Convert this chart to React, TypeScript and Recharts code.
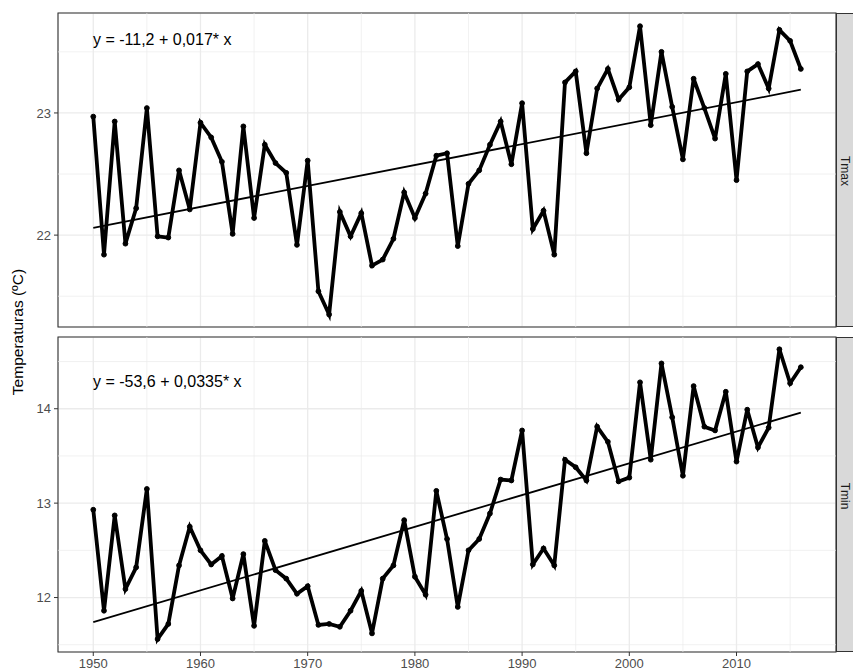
import React from "react";
import {
  ComposedChart,
  Line,
  XAxis,
  YAxis,
  CartesianGrid,
  ReferenceLine,
  ReferenceArea,
} from "recharts";

// years 1950-2016
const years = [
  1950, 1951, 1952, 1953, 1954, 1955, 1956, 1957, 1958, 1959,
  1960, 1961, 1962, 1963, 1964, 1965, 1966, 1967, 1968, 1969,
  1970, 1971, 1972, 1973, 1974, 1975, 1976, 1977, 1978, 1979,
  1980, 1981, 1982, 1983, 1984, 1985, 1986, 1987, 1988, 1989,
  1990, 1991, 1992, 1993, 1994, 1995, 1996, 1997, 1998, 1999,
  2000, 2001, 2002, 2003, 2004, 2005, 2006, 2007, 2008, 2009,
  2010, 2011, 2012, 2013, 2014, 2015, 2016,
];

const tmax = [
  22.97, 21.84, 22.93, 21.93, 22.22, 23.04, 21.99, 21.98, 22.53, 22.21,
  22.92, 22.8, 22.6, 22.01, 22.89, 22.14, 22.74, 22.59, 22.51, 21.92,
  22.61, 21.54, 21.35, 22.19, 21.99, 22.18, 21.75, 21.8, 21.97, 22.35,
  22.14, 22.34, 22.65, 22.67, 21.91, 22.42, 22.53, 22.74, 22.93, 22.58,
  23.08, 22.05, 22.2, 21.84, 23.25, 23.34, 22.67, 23.2, 23.36, 23.11,
  23.21, 23.71, 22.9, 23.5, 23.05, 22.62, 23.28, 23.04, 22.79, 23.32,
  22.45, 23.34, 23.4, 23.2, 23.68, 23.59, 23.36,
];

const tmin = [
  12.93, 11.86, 12.87, 12.09, 12.32, 13.15, 11.56, 11.72, 12.34, 12.75,
  12.5, 12.35, 12.44, 11.99, 12.46, 11.7, 12.6, 12.29, 12.2, 12.04,
  12.12, 11.71, 11.72, 11.69, 11.86, 12.07, 11.62, 12.2, 12.34, 12.82,
  12.22, 12.03, 13.13, 12.62, 11.9, 12.5, 12.62, 12.89, 13.25, 13.24,
  13.77, 12.35, 12.52, 12.34, 13.46, 13.38, 13.24, 13.81, 13.65, 13.23,
  13.27, 14.28, 13.46, 14.48, 13.91, 13.29, 14.24, 13.81, 13.77, 14.18,
  13.44, 13.99, 13.59, 13.8, 14.63, 14.27, 14.44,
];

// fitted lines (start / end)
const trendYears = [1950, 2016];
const tmaxTrend = [22.06, 23.19];
const tminTrend = [11.74, 13.96];

const xTicks = [1950, 1960, 1970, 1980, 1990, 2000, 2010];
const xMinor = [1955, 1965, 1975, 1985, 1995, 2005, 2015];
const xDomain = [1946.71, 2019.28];

const tmaxTicks = [22, 23];
const tmaxMinor = [21.5, 22.5, 23.5];
const tmaxDomain = [21.248, 23.818];

const tminTicks = [12, 13, 14];
const tminMinor = [11.5, 12.5, 13.5, 14.5];
const tminDomain = [11.423, 14.76];

const FONT = "'Liberation Sans', Arial, Helvetica, sans-serif";

const toRows = (xs: number[], ys: number[]) =>
  xs.map((year, i) => ({ year, value: ys[i] }));

interface PanelProps {
  values: number[];
  trend: number[];
  yDomain: number[];
  yTicks: number[];
  yMinor: number[];
  showX: boolean;
  height: number;
  marginTop: number;
  marginBottom: number;
}

function Panel({
  values,
  trend,
  yDomain,
  yTicks,
  yMinor,
  showX,
  height,
  marginTop,
  marginBottom,
}: PanelProps) {
  const data = toRows(years, values);
  const trendData = toRows(trendYears, trend);
  return (
    <ComposedChart
      width={853}
      height={height}
      margin={{ top: marginTop, right: 17, bottom: marginBottom, left: 0 }}
    >
      {xMinor.map((v) => (
        <ReferenceLine key={"x" + v} x={v} stroke="#EBEBEB" strokeWidth={0.7} />
      ))}
      {yMinor.map((v) => (
        <ReferenceLine key={"y" + v} y={v} stroke="#EBEBEB" strokeWidth={0.7} />
      ))}
      <CartesianGrid stroke="#EBEBEB" strokeWidth={1.3} />
      <XAxis
        type="number"
        dataKey="year"
        domain={xDomain}
        allowDataOverflow
        ticks={xTicks}
        hide={!showX}
        height={19}
        axisLine={false}
        tickLine={{ stroke: "#333333" }}
        tickSize={4}
        tickMargin={3}
        tick={{ fill: "#4D4D4D", fontSize: 13, fontFamily: FONT }}
      />
      <YAxis
        type="number"
        domain={yDomain}
        allowDataOverflow
        ticks={yTicks}
        width={58}
        axisLine={false}
        tickLine={{ stroke: "#333333" }}
        tickSize={4}
        tickMargin={3}
        tick={{ fill: "#4D4D4D", fontSize: 13, fontFamily: FONT }}
      />
      <Line
        data={trendData}
        dataKey="value"
        type="linear"
        stroke="#000"
        strokeWidth={1.8}
        dot={false}
        activeDot={false}
        isAnimationActive={false}
      />
      <Line
        data={data}
        dataKey="value"
        type="linear"
        stroke="#000"
        strokeWidth={3.8}
        dot={{ r: 2.4, fill: "#000", stroke: "#000", strokeWidth: 1 }}
        activeDot={false}
        isAnimationActive={false}
      />
      <ReferenceArea
        x1={xDomain[0]}
        x2={xDomain[1]}
        y1={yDomain[0]}
        y2={yDomain[1]}
        fill="none"
        stroke="#333333"
        strokeWidth={1.1}
      />
    </ComposedChart>
  );
}

function Strip({ top, height, label }: { top: number; height: number; label: string }) {
  return (
    <div
      style={{
        position: "absolute",
        left: 836,
        top,
        width: 30,
        height,
        boxSizing: "border-box",
        background: "#D9D9D9",
        border: "1px solid #333333",
      }}
    >
      <div
        style={{
          position: "absolute",
          left: 8,
          top: height / 2,
          transform: "translate(-50%, -50%) rotate(90deg)",
          fontSize: 12,
          lineHeight: "12px",
          color: "#1A1A1A",
          fontFamily: FONT,
          whiteSpace: "nowrap",
        }}
      >
        {label}
      </div>
    </div>
  );
}

const eqStyle: React.CSSProperties = {
  position: "absolute",
  left: 93,
  fontSize: 16,
  fontFamily: FONT,
  color: "#000",
  whiteSpace: "nowrap",
};

export default function App() {
  return (
    <div
      style={{
        position: "absolute",
        left: 0,
        top: 0,
        width: 853,
        height: 671,
        overflow: "hidden",
        background: "#fff",
      }}
    >
      <div style={{ position: "absolute", left: 0, top: 0 }}>
        <Panel
          values={tmax}
          trend={tmaxTrend}
          yDomain={tmaxDomain}
          yTicks={tmaxTicks}
          yMinor={tmaxMinor}
          showX={false}
          height={330}
          marginTop={13}
          marginBottom={3}
        />
      </div>
      <div style={{ position: "absolute", left: 0, top: 330 }}>
        <Panel
          values={tmin}
          trend={tminTrend}
          yDomain={tminDomain}
          yTicks={tminTicks}
          yMinor={tminMinor}
          showX={true}
          height={341}
          marginTop={7}
          marginBottom={0}
        />
      </div>
      <Strip top={13} height={314} label="Tmax" />
      <Strip top={337} height={315} label="Tmin" />
      <div style={{ ...eqStyle, top: 31 }}>y = -11,2 + 0,017* x</div>
      <div style={{ ...eqStyle, top: 373 }}>y = -53,6 + 0,0335* x</div>
      <div
        style={{
          position: "absolute",
          left: 18,
          top: 332,
          transform: "translate(-50%, -50%) rotate(-90deg)",
          fontSize: 15.5,
          fontFamily: FONT,
          color: "#000",
          whiteSpace: "nowrap",
        }}
      >
        Temperaturas (ºC)
      </div>
    </div>
  );
}
